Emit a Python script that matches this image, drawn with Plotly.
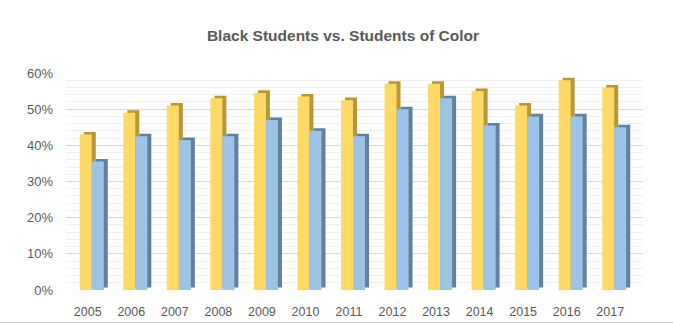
import plotly.graph_objects as go

years = ["2005", "2006", "2007", "2008", "2009", "2010", "2011",
         "2012", "2013", "2014", "2015", "2016", "2017"]
black_students = [43, 49, 51, 53, 54.5, 53.5, 52.5, 57, 57, 55, 51, 58, 56]
students_of_color = [35.5, 42.5, 41.5, 42.5, 47, 44, 42.5, 50, 53, 45.5, 48, 48, 45]
y_ticks = [0, 10, 20, 30, 40, 50, 60]
y_tick_labels = ["0%", "10%", "20%", "30%", "40%", "50%", "60%"]

yellow_front = "#FFD966"
yellow_side = "#B8963A"
blue_front = "#9DC3E6"
blue_side = "#62809F"

bar_w = 0.276
depth_x = 0.092
depth_y = 0.7

fig = go.Figure()

def add_series(vals, front, side, off, name):
    fig.add_trace(go.Bar(
        x=years, y=vals, base=depth_y, offset=off + depth_x, width=bar_w,
        marker=dict(color=side, line=dict(width=0)), showlegend=False,
        hoverinfo="skip"))
    fig.add_trace(go.Bar(
        x=years, y=vals, offset=off, width=bar_w, name=name,
        marker=dict(color=front, line=dict(width=0)), showlegend=False))

add_series(black_students, yellow_front, yellow_side, -0.184, "Black Students")
add_series(students_of_color, blue_front, blue_side, 0.092, "Students of Color")

W, H = 673, 324
ml, mr, mt, mb = 66, 30, 73, 34
pw = W - ml - mr
ph = H - mt - mb

fig.update_layout(
    width=W, height=H,
    margin=dict(l=ml, r=mr, t=mt, b=mb),
    barmode="overlay",
    paper_bgcolor="white", plot_bgcolor="white",
    font=dict(family="Liberation Sans, Arial, sans-serif", color="#595959"),
    title=dict(text="<b>Black Students vs. Students of Color</b>",
               x=343 / W, xanchor="center", xref="container",
               y=1 - 36 / H, yanchor="middle", yref="container",
               font=dict(size=15.5, color="#595959")),
    xaxis=dict(type="category", range=[-0.5, 12.5 + 11 / 43.5],
               showgrid=False, zeroline=False, showline=False,
               automargin=False,
               tickfont=dict(size=12.5, color="#595959"), ticks="",
               ticklabelstandoff=12),
    yaxis=dict(range=[0, 60], tickvals=y_ticks, ticktext=y_tick_labels,
               showgrid=True, gridcolor="#D9D9D9", gridwidth=1,
               zeroline=False, showline=False, ticks="",
               automargin=False,
               tickfont=dict(size=13, color="#595959"),
               ticklabelstandoff=12,
               minor=dict(dtick=2, showgrid=True, gridcolor="#F0F0F0",
                          gridwidth=1)),
    hovermode=False,
)

fig.add_shape(type="line", xref="paper", yref="paper",
              x0=-ml / pw, x1=(W - ml) / pw,
              y0=-(322.5 - (H - mb)) / ph, y1=-(322.5 - (H - mb)) / ph,
              line=dict(color="#C8C8C8", width=1))

fig.write_html("out.html")
